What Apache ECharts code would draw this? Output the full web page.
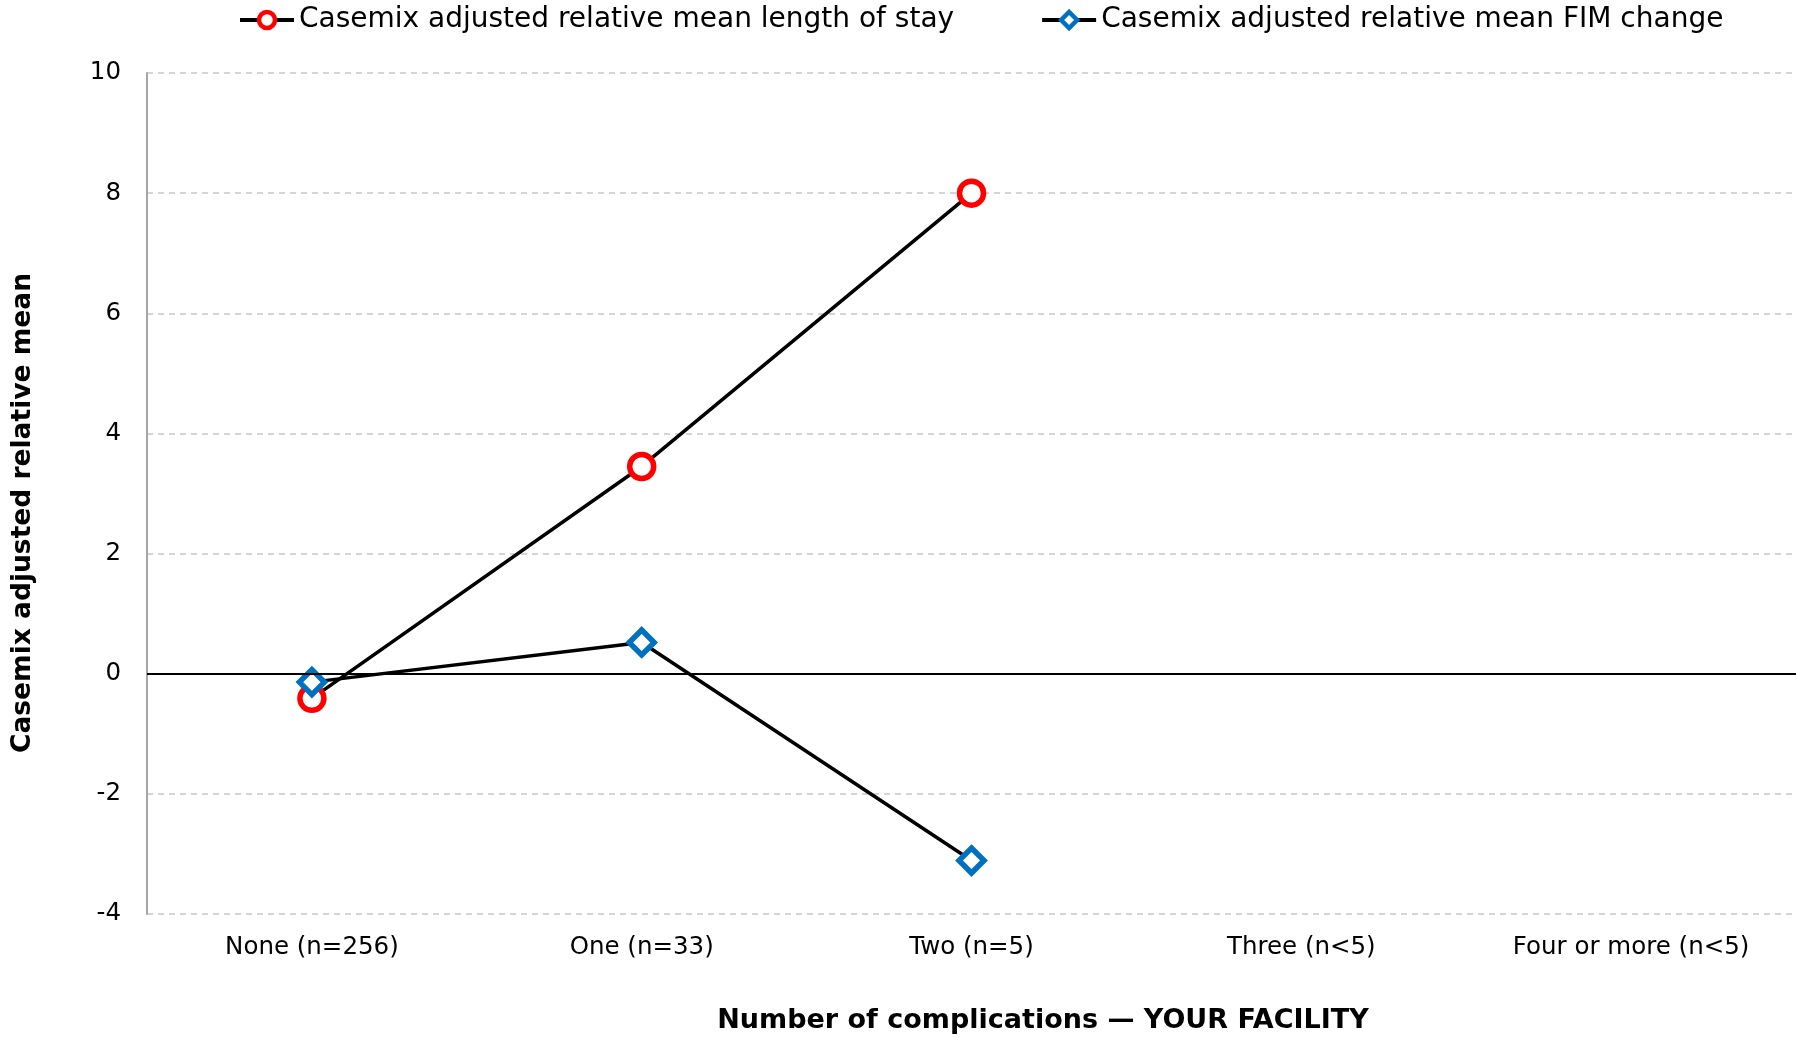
<!DOCTYPE html>
<html>
<head>
<meta charset="utf-8">
<script src="https://cdn.jsdelivr.net/npm/echarts@6/dist/echarts.min.js"></script>
<style>
html,body{margin:0;padding:0;background:#fff;}
#chart{width:1796px;height:1038px;}
</style>
</head>
<body>
<div id="chart"></div>
<script>
const categories = ['None (n=256)', 'One (n=33)', 'Two (n=5)', 'Three (n<5)', 'Four or more (n<5)'];
const losValues = [-0.41, 3.45, 8.0, null, null];
const fimValues = [-0.14, 0.52, -3.11, null, null];
const seriesNames = ['Casemix adjusted relative mean length of stay', 'Casemix adjusted relative mean FIM change'];
const yTitle = 'Casemix adjusted relative mean';
const xTitle = 'Number of complications \u2014 YOUR FACILITY';

const FONT = '"DejaVu Sans", Verdana, sans-serif';
const chart = echarts.init(document.getElementById('chart'), null, {renderer: 'canvas'});
chart.setOption({
  backgroundColor: '#ffffff',
  animation: false,
  grid: {left: 147, right: 0, top: 73, bottom: 124, containLabel: false},
  legend: {
    top: 1, left: 233,
    itemWidth: 54, itemHeight: 20, itemGap: 86,
    textStyle: {fontFamily: FONT, fontSize: 28, color: '#000'},
    lineStyle: {width: 4, color: '#000'},
    itemStyle: {borderWidth: 4.5},
    data: seriesNames
  },
  xAxis: {
    type: 'category',
    data: categories,
    boundaryGap: true,
    axisLine: {show: false, onZero: false},
    axisTick: {show: false},
    axisLabel: {fontFamily: FONT, fontSize: 24.5, color: '#000', margin: 21, interval: 0}
  },
  yAxis: {
    type: 'value',
    min: -4, max: 10, interval: 2,
    axisLine: {show: true, lineStyle: {color: '#a6a6a6', width: 2}},
    axisTick: {show: false},
    axisLabel: {fontFamily: FONT, fontSize: 24.5, color: '#000', margin: 26},
    splitLine: {show: true, lineStyle: {color: '#c8c8c8', width: 1.5, type: [6, 5]}}
  },
  graphic: [
    {type: 'text', rotation: Math.PI / 2, position: [23, 513],
     style: {text: yTitle, font: 'bold 26.5px ' + FONT, fill: '#000', textAlign: 'center', textVerticalAlign: 'middle'}},
    {type: 'text', position: [1043, 1021],
     style: {text: xTitle, font: 'bold 27px ' + FONT, fill: '#000', textAlign: 'center', textVerticalAlign: 'middle'}}
  ],
  series: [
    {
      name: seriesNames[0],
      type: 'line',
      data: losValues,
      symbol: 'circle', symbolSize: 24,
      showAllSymbol: true,
      lineStyle: {color: '#000', width: 3.5},
      itemStyle: {color: '#ffffff', borderColor: '#ff0000', borderWidth: 5.5},
      markLine: {
        silent: true, symbol: 'none',
        label: {show: false},
        lineStyle: {color: '#000', width: 2, type: 'solid'},
        data: [{yAxis: 0}]
      },
      z: 3
    },
    {
      name: seriesNames[1],
      type: 'line',
      data: fimValues,
      symbol: 'diamond', symbolSize: 25,
      showAllSymbol: true,
      lineStyle: {color: '#000', width: 3.5},
      itemStyle: {color: '#ffffff', borderColor: '#0070c0', borderWidth: 5.5},
      z: 4
    }
  ]
});
</script>
</body>
</html>
